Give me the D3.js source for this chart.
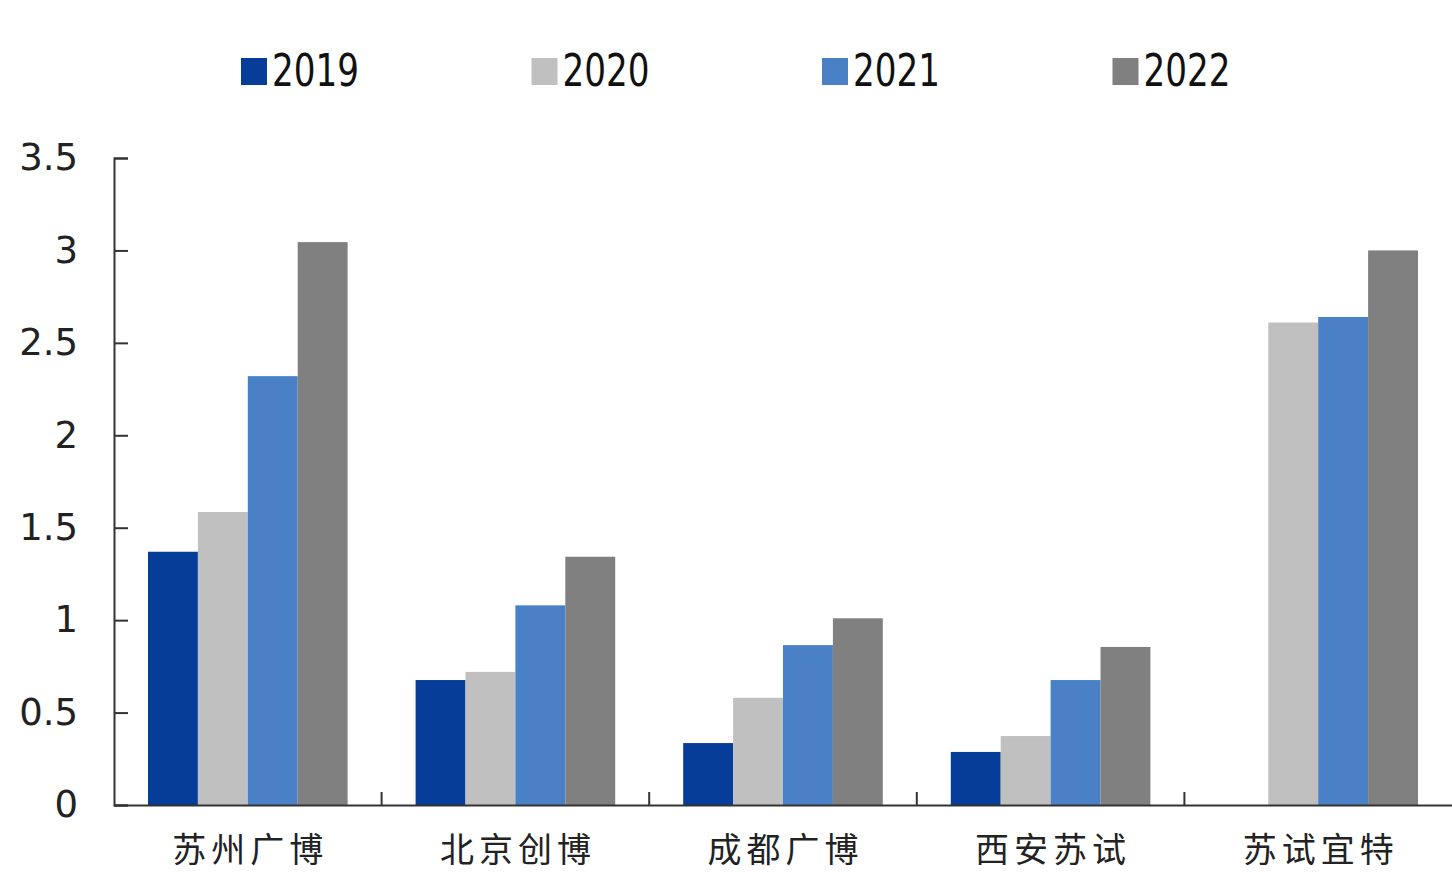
<!DOCTYPE html>
<html>
<head>
<meta charset="utf-8">
<script src="https://cdn.jsdelivr.net/npm/d3@7"></script>
<style>
  body { margin: 0; background: #fff; }
</style>
</head>
<body>
<div id="chart"></div>
<script>
// Data
const companies = ["苏州广博", "北京创博", "成都广博", "西安苏试", "苏试宜特"];
const years = ["2019", "2020", "2021", "2022"];
const v2019 = [1.37, 0.676, 0.335, 0.287, null];
const v2020 = [1.585, 0.72, 0.58, 0.373, 2.61];
const v2021 = [2.32, 1.08, 0.865, 0.676, 2.64];
const v2022 = [3.045, 1.343, 1.01, 0.855, 3.0];
const yTicks = [0, 0.5, 1, 1.5, 2, 2.5, 3, 3.5];
const colors = ["#063d98", "#c0c0c0", "#4a80c6", "#808080"];

const seriesValues = [v2019, v2020, v2021, v2022];
const data = companies.map((c, i) => ({
    company: c,
    values: years.map((y, j) => ({ year: y, value: seriesValues[j][i] }))
}));

const width = 1452, height = 875;
const margin = { top: 158, bottom: 70, left: 114, right: 0 };

const svg = d3.select('#chart')
    .append('svg')
    .attr('width', width)
    .attr('height', height)
    .style('font-family', '"DejaVu Sans", Verdana, sans-serif');

// Scales
const x = d3.scaleBand()
    .domain(companies)
    .range([margin.left, width - margin.right])
    .padding(0);

const xSub = d3.scaleBand()
    .domain(years)
    .range([34, x.bandwidth() - 34])
    .padding(0);

const y = d3.scaleLinear()
    .domain([0, 3.5])
    .range([height - margin.bottom, margin.top]);

const color = d3.scaleOrdinal()
    .domain(years)
    .range(colors);

// Bars
svg.append('g')
    .selectAll('g')
    .data(data)
    .enter().append('g')
    .attr('transform', d => `translate(${x(d.company)},0)`)
    .selectAll('rect')
    .data(d => d.values.filter(v => v.value != null))
    .enter().append('rect')
    .attr('x', d => xSub(d.year))
    .attr('y', d => y(d.value))
    .attr('width', xSub.bandwidth())
    .attr('height', d => y(0) - y(d.value))
    .attr('fill', d => color(d.year));

// Y axis
const yAxis = svg.append('g')
    .attr('transform', `translate(${margin.left},0)`)
    .call(d3.axisLeft(y).tickValues(yTicks).tickSize(-14).tickPadding(36).tickFormat(d => String(d)));
yAxis.select('.domain').attr('stroke', '#333').attr('stroke-width', 2);
yAxis.selectAll('.tick line').attr('stroke', '#333').attr('stroke-width', 2);
yAxis.selectAll('.tick text')
    .attr('fill', '#222')
    .style('font-size', '37px')
    .style('font-family', '"DejaVu Sans", Verdana, sans-serif');

// X axis
const xAxis = svg.append('g')
    .attr('transform', `translate(0,${y(0)})`)
    .call(d3.axisBottom(x).tickSize(0).tickPadding(33));
xAxis.select('.domain').attr('stroke', '#333').attr('stroke-width', 2);
xAxis.selectAll('.tick text')
    .attr('fill', '#222')
    .attr('dx', '2.5px')
    .style('letter-spacing', '5px')
    .style('font-size', '34px')
    .style('font-family', '"Noto Sans CJK SC", sans-serif');

// Ticks between categories
svg.append('g')
    .selectAll('line')
    .data(companies.slice(1))
    .enter().append('line')
    .attr('x1', d => x(d))
    .attr('x2', d => x(d))
    .attr('y1', y(0))
    .attr('y2', y(0) - 13)
    .attr('stroke', '#333')
    .attr('stroke-width', 2);

// Legend
const legend = svg.append('g')
    .selectAll('g')
    .data(years)
    .enter().append('g')
    .attr('transform', (d, i) => `translate(${241 + i * 290.5},58)`);

legend.append('rect')
    .attr('width', 26)
    .attr('height', 27)
    .attr('fill', d => color(d));

legend.append('text')
    .attr('x', 31)
    .attr('y', 28)
    .attr('textLength', 87)
    .attr('lengthAdjust', 'spacingAndGlyphs')
    .attr('fill', '#111')
    .style('font-size', '44px')
    .style('font-family', '"DejaVu Sans", Verdana, sans-serif')
    .text(d => d);
</script>
</body>
</html>
